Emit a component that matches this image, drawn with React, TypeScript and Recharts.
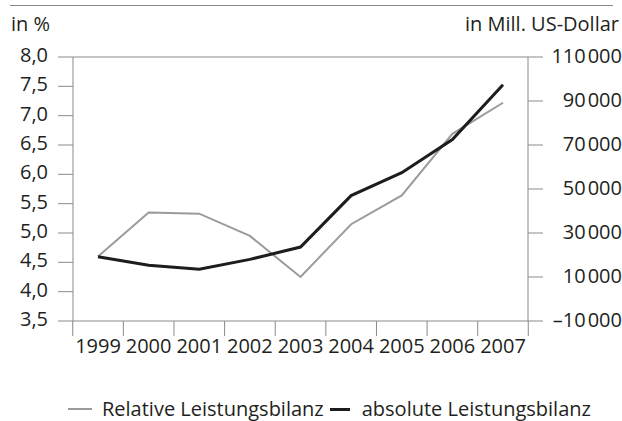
import { LineChart, Line, XAxis, YAxis, ReferenceLine, Legend } from 'recharts';

const YEARS = ['1999', '2000', '2001', '2002', '2003', '2004', '2005', '2006', '2007'];
// Relative Leistungsbilanz, in % (left axis)
const RELATIVE = [4.6, 5.35, 5.33, 4.95, 4.25, 5.15, 5.64, 6.69, 7.22];
// absolute Leistungsbilanz, in Mill. US-Dollar (right axis)
const ABSOLUTE = [19200, 15300, 13500, 18000, 23600, 47000, 57400, 72500, 97400];
const PCT_TICKS = [3.5, 4, 4.5, 5, 5.5, 6, 6.5, 7, 7.5, 8];
const USD_TICKS = [-10000, 10000, 30000, 50000, 70000, 90000, 110000];

const FONT = '"Open Sans", sans-serif';
const FS = 20;
const TEXT = '#231f20';
const AXIS = '#8a8a8a';
const GRAY = '#9b9b9b';
const BLACK = '#1d1d1b';
const TICK = 15;

const data = YEARS.map((year, i) => ({ year, relative: RELATIVE[i], absolute: ABSOLUTE[i] }));

const fmtPct = (v: number) => v.toFixed(1).replace('.', ',');

const ICONS: Record<string, { w: number; h: number; gap: number; after: number }> = {
  relative: { w: 24, h: 2, gap: 10, after: 6 },
  absolute: { w: 20, h: 3, gap: 12, after: 0 },
};

function PctTick({ x, y, payload }: any) {
  return (
    <text x={x} y={y - 2} dy="0.355em" textAnchor="end" fill={TEXT} fontSize={FS} fontFamily={FONT}>
      {fmtPct(payload.value)}
    </text>
  );
}

function UsdTick({ x, y, payload }: any) {
  const v: number = payload.value;
  const s = String(Math.abs(v));
  const head = (v < 0 ? '–' : '') + s.slice(0, -3);
  return (
    <text x={x + 77} y={y - 1.5} dy="0.355em" textAnchor="end" fill={TEXT} fontSize={FS} fontFamily={FONT}>
      <tspan>{head}</tspan>
      <tspan dx={2}>{s.slice(-3)}</tspan>
    </text>
  );
}

// year label in the middle of its band, tick marks on the band edges
function YearTick({ x, y, payload, index, visibleTicksCount, width }: any) {
  const band = width / visibleTicksCount;
  const y0 = y - TICK - 3;
  const last = index === visibleTicksCount - 1;
  return (
    <g>
      <line x1={x - band / 2} x2={x - band / 2} y1={y0} y2={y0 + TICK} stroke={AXIS} />
      {last && <line x1={x + band / 2} x2={x + band / 2} y1={y0} y2={y0 + TICK} stroke={AXIS} />}
      <text x={x} y={y} dy="0.71em" textAnchor="middle" fill={TEXT} fontSize={FS} fontFamily={FONT}>
        {payload.value}
      </text>
    </g>
  );
}

function LegendContent({ payload }: any) {
  return (
    <div style={{ display: 'flex', alignItems: 'center', fontFamily: FONT, fontSize: FS, lineHeight: '20px', color: TEXT, whiteSpace: 'nowrap' }}>
      {(payload || []).map((p: any) => {
        const icon = ICONS[p.dataKey] || { w: 20, h: 2, gap: 10, after: 6 };
        return (
          <div key={p.value} style={{ display: 'flex', alignItems: 'center', marginRight: icon.after }}>
            <span style={{ display: 'inline-block', width: icon.w, height: icon.h, background: p.color, marginRight: icon.gap }} />
            <span>{p.value}</span>
          </div>
        );
      })}
    </div>
  );
}

export default function App() {
  return (
    <div style={{ position: 'absolute', left: 0, top: 0, width: 622, height: 421, background: '#fff', fontFamily: FONT }}>
      <div style={{ position: 'absolute', left: 10, top: 5, width: 603, borderTop: `1.5px solid ${AXIS}` }} />
      <div style={{ position: 'absolute', left: 11, top: 13, fontSize: FS, lineHeight: '22px', color: TEXT }}>in %</div>
      <div style={{ position: 'absolute', right: 3, top: 13, fontSize: FS, lineHeight: '22px', color: TEXT }}>in Mill. US-Dollar</div>
      <LineChart width={622} height={421} data={data} margin={{ top: 57, right: 3, bottom: 99, left: 13 }}>
        <XAxis
          dataKey="year"
          height={1}
          interval={0}
          padding={{ left: 25, right: 25 }}
          axisLine={{ stroke: AXIS }}
          tickLine={false}
          tickSize={TICK}
          tickMargin={3}
          tick={<YearTick />}
        />
        <YAxis
          yAxisId="left"
          domain={[3.5, 8]}
          ticks={PCT_TICKS}
          interval={0}
          width={60}
          tickSize={TICK}
          tickMargin={10}
          axisLine={{ stroke: AXIS }}
          tickLine={{ stroke: AXIS }}
          tick={<PctTick />}
        />
        <YAxis
          yAxisId="right"
          orientation="right"
          domain={[-10000, 110000]}
          ticks={USD_TICKS}
          interval={0}
          width={91}
          tickSize={TICK}
          axisLine={{ stroke: AXIS }}
          tickLine={{ stroke: AXIS }}
          tick={<UsdTick />}
        />
        <ReferenceLine yAxisId="left" y={8} stroke={AXIS} />
        <Line
          yAxisId="left"
          type="linear"
          dataKey="relative"
          name="Relative Leistungsbilanz"
          stroke={GRAY}
          strokeWidth={2}
          dot={false}
          isAnimationActive={false}
        />
        <Line
          yAxisId="right"
          type="linear"
          dataKey="absolute"
          name="absolute Leistungsbilanz"
          stroke={BLACK}
          strokeWidth={3}
          dot={false}
          isAnimationActive={false}
        />
        <Legend
          verticalAlign="middle"
          layout="horizontal"
          align="center"
          wrapperStyle={{ left: 68, top: 399, width: 550 }}
          content={(props: any) => <LegendContent {...props} />}
        />
      </LineChart>
    </div>
  );
}
